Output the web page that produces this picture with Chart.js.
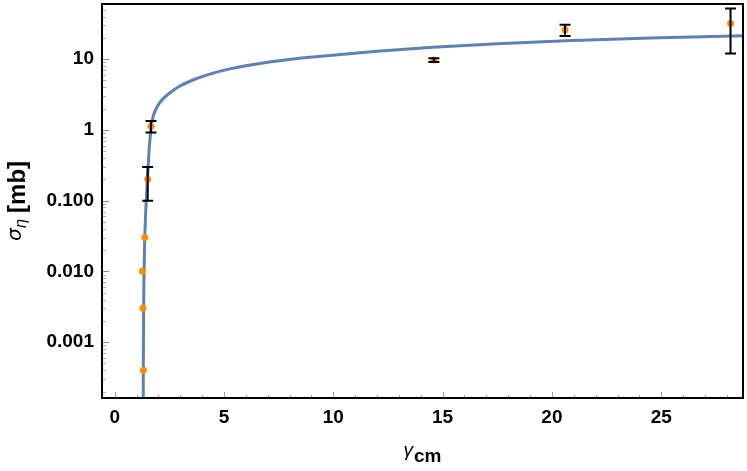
<!DOCTYPE html>
<html>
<head>
<meta charset="utf-8">
<script src="https://cdn.jsdelivr.net/npm/chart.js@4/dist/chart.umd.min.js"></script>
<style>
    html, body { margin: 0; padding: 0; background: #fff; }
    #wrap { width: 747px; height: 471px; }
</style>
</head>
<body>
<div id="wrap"><canvas id="chart" width="747" height="471"></canvas></div>
<script>
// ---- Data ----

// fitted curve (sampled by eye)
const curveX = [1.300, 1.310, 1.320, 1.340, 1.370, 1.420, 1.470, 1.530, 1.580, 1.620, 1.680, 1.760,
    1.90, 2.07, 2.22, 2.50, 2.98, 3.74, 4.50, 5.26, 6.79, 8.46, 9.83, 12.0, 14.55, 17.5, 20.64, 24.5, 28.8];
const curveY = [0.00001, 0.0004, 0.002, 0.008, 0.025, 0.07, 0.14, 0.30, 0.55, 0.76, 1.15, 1.55,
    2.00, 2.45, 2.77, 3.30, 4.17, 5.31, 6.35, 7.29, 8.85, 10.3, 11.3, 12.9, 14.7, 16.5, 18.2, 19.9, 21.4];

// measured points with error bars
const pointX = [1.31, 1.29, 1.27, 1.38, 1.51, 1.66, 14.6, 20.6, 28.17];
const pointY = [0.0004, 0.003, 0.01, 0.03, 0.2, 1.13, 9.7, 26, 32];
const pointErr = [null, null, null, null, 0.1, 0.21, 0.6, 4.7, 20];

// axes
const xTickValues = [0, 5, 10, 15, 20, 25];
const xTickLabels = ["0", "5", "10", "15", "20", "25"];
const yTickValues = [0.001, 0.01, 0.1, 1, 10];
const yTickLabels = ["0.001", "0.010", "0.100", "1", "10"];
const X_MIN = -0.58, X_MAX = 28.74;
const Y_MIN = 1.62e-4, Y_MAX = 60.3;

const X_TITLE = ["γ", "cm"];
const Y_TITLE = ["σ", "η", "[mb]"];

const BLUE = "#5e81b5";
const ORANGE = "#ff8c00";
const TICK_FONT = { family: "'Liberation Sans', Arial, sans-serif", size: 19, weight: "bold" };

// ---- Plugin: frame, inside ticks, error bars, axis titles ----

const framePlugin = {
    id: "frame",
    afterDatasetsDraw(chart) {
        const ctx = chart.ctx;
        const xs = chart.scales.x, ys = chart.scales.y;

        ctx.save();
        // error bars on top of the markers
        ctx.strokeStyle = "#000";
        ctx.lineWidth = 2;
        pointX.forEach((x, i) => {
            const e = pointErr[i];
            if (e == null) return;
            const px = xs.getPixelForValue(x);
            const top = ys.getPixelForValue(pointY[i] + e);
            const bot = ys.getPixelForValue(pointY[i] - e);
            ctx.beginPath();
            ctx.moveTo(px, top); ctx.lineTo(px, bot);
            ctx.moveTo(px - 5.5, top); ctx.lineTo(px + 5.5, top);
            ctx.moveTo(px - 5.5, bot); ctx.lineTo(px + 5.5, bot);
            ctx.stroke();
        });
        ctx.restore();
    },
    afterDraw(chart) {
        const ctx = chart.ctx;
        const xs = chart.scales.x, ys = chart.scales.y;
        const a = chart.chartArea;

        ctx.save();
        // inside ticks
        ctx.lineWidth = 1;
        ctx.strokeStyle = "#999";
        for (let v = 0; v <= 28; v++) {
            const px = Math.round(xs.getPixelForValue(v)) + 0.5;
            const len = v % 5 === 0 ? 6 : 3;
            ctx.beginPath();
            ctx.moveTo(px, a.bottom); ctx.lineTo(px, a.bottom - len);
            ctx.stroke();
        }
        for (let d = -4; d <= 1; d++) {
            for (let k = 1; k <= 9; k++) {
                const v = k * Math.pow(10, d);
                if (v < Y_MIN || v > Y_MAX) continue;
                const py = Math.round(ys.getPixelForValue(v)) + 0.5;
                const len = k === 1 ? 7 : 4;
                ctx.strokeStyle = k === 1 ? "#888" : "#aaa";
                ctx.beginPath();
                ctx.moveTo(a.left, py); ctx.lineTo(a.left + len, py);
                ctx.stroke();
            }
        }

        // frame
        ctx.strokeStyle = "#000";
        ctx.lineWidth = 2;
        ctx.strokeRect(a.left, a.top, a.right - a.left, a.bottom - a.top);

        // x title: γ_cm
        ctx.fillStyle = "#000";
        ctx.textBaseline = "alphabetic";
        const gFont = "italic 19px 'Liberation Sans', Arial, sans-serif";
        const cmFont = "bold 19px 'Liberation Sans', Arial, sans-serif";
        ctx.font = gFont;
        const gw = ctx.measureText(X_TITLE[0]).width;
        ctx.font = cmFont;
        const cw = ctx.measureText(X_TITLE[1]).width;
        const cx = (a.left + a.right) / 2;
        const sx = cx - (gw + 1 + cw) / 2;
        ctx.font = gFont;
        ctx.fillText(X_TITLE[0], sx, 456);
        ctx.font = cmFont;
        ctx.fillText(X_TITLE[1], sx + gw + 1, 462);

        // y title: σ_η [mb]
        const sFont = "italic 20px 'DejaVu Sans', sans-serif";
        const eFont = "italic 15px 'DejaVu Sans', sans-serif";
        const mbFont = "bold 24px 'Liberation Sans', Arial, sans-serif";
        ctx.font = sFont;
        const sw = ctx.measureText(Y_TITLE[0]).width;
        ctx.font = eFont;
        const ew = ctx.measureText(Y_TITLE[1]).width;
        ctx.font = mbFont;
        const mw = ctx.measureText(Y_TITLE[2]).width;
        const total = sw + ew + 6 + mw;
        const cy = (a.top + a.bottom) / 2;
        ctx.translate(0, cy);
        ctx.rotate(-Math.PI / 2);
        let t = -total / 2;
        ctx.font = sFont;
        ctx.fillText(Y_TITLE[0], t, 21);
        t += sw;
        ctx.font = eFont;
        ctx.fillText(Y_TITLE[1], t, 26);
        t += ew + 6;
        ctx.font = mbFont;
        ctx.fillText(Y_TITLE[2], t, 25);
        ctx.restore();
    },
};

// ---- Chart ----

function noPad(s) {
    s.paddingTop = 0;
    s.paddingBottom = 0;
    s.paddingLeft = 0;
    s.paddingRight = 0;
}

const ctx = document.getElementById("chart").getContext("2d");
new Chart(ctx, {
    type: "scatter",
    data: {
        datasets: [
            {
                label: "fit",
                data: curveX.map((x, i) => ({ x, y: curveY[i] })),
                showLine: true,
                borderColor: BLUE,
                borderWidth: 3,
                pointRadius: 0,
                cubicInterpolationMode: "monotone",
                order: 2,
            },
            {
                label: "data",
                data: pointX.map((x, i) => ({ x, y: pointY[i] })),
                backgroundColor: ORANGE,
                borderWidth: 0,
                pointRadius: 3.5,
                order: 1,
            },
        ],
    },
    options: {
        responsive: false,
        animation: false,
        devicePixelRatio: 1,
        layout: { padding: { top: 1, right: 3, left: 0, bottom: 0 } },
        plugins: { legend: { display: false }, tooltip: { enabled: false } },
        scales: {
            x: {
                type: "linear",
                min: X_MIN,
                max: X_MAX,
                grid: { display: false, drawTicks: false, tickLength: 0 },
                border: { display: false },
                afterBuildTicks: (s) => { s.ticks = xTickValues.map((v) => ({ value: v })); },
                afterFit: (s) => { s.height = 73; noPad(s); },
                ticks: {
                    autoSkip: false,
                    maxRotation: 0,
                    padding: 8,
                    color: "#000",
                    font: TICK_FONT,
                    callback: (v, i) => xTickLabels[i],
                },
            },
            y: {
                type: "logarithmic",
                min: Y_MIN,
                max: Y_MAX,
                grid: { display: false, drawTicks: false, tickLength: 0 },
                border: { display: false },
                afterBuildTicks: (s) => { s.ticks = yTickValues.map((v) => ({ value: v })); },
                afterFit: (s) => { s.width = 102; noPad(s); },
                ticks: {
                    autoSkip: false,
                    padding: 8,
                    color: "#000",
                    font: TICK_FONT,
                    callback: (v, i) => yTickLabels[i],
                },
            },
        },
    },
    plugins: [framePlugin],
});
</script>
</body>
</html>
